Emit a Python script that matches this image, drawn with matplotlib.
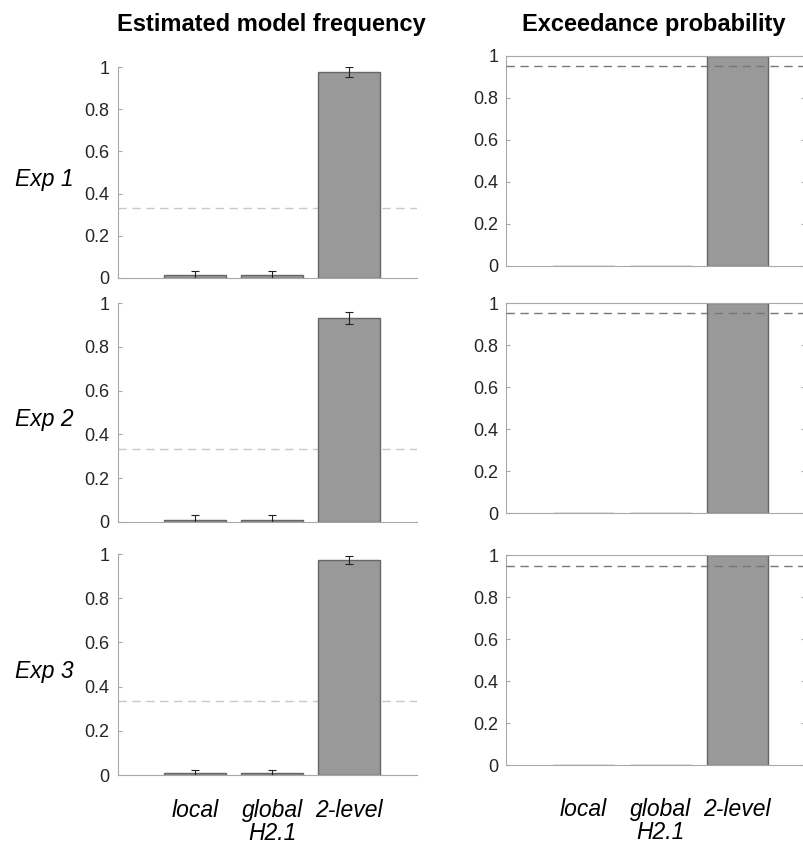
import matplotlib.pyplot as plt

plt.rcParams['font.family'] = ['Liberation Sans', 'DejaVu Sans']

models = ["local", "global\nH2.1", "2-level"]
experiments = ["Exp 1", "Exp 2", "Exp 3"]

# estimated model frequency (mean, error) per experiment
freq_exp1 = [0.013, 0.013, 0.975]
err_exp1 = [0.02, 0.02, 0.024]
freq_exp2 = [0.011, 0.011, 0.932]
err_exp2 = [0.02, 0.02, 0.026]
freq_exp3 = [0.009, 0.009, 0.973]
err_exp3 = [0.015, 0.015, 0.016]

# exceedance probability per experiment
xp_exp1 = [0.0, 0.0, 1.0]
xp_exp2 = [0.0, 0.0, 1.0]
xp_exp3 = [0.0, 0.0, 1.0]

chance_level = 1 / 3
xp_threshold = 0.95

freqs = [freq_exp1, freq_exp2, freq_exp3]
errs = [err_exp1, err_exp2, err_exp3]
xps = [xp_exp1, xp_exp2, xp_exp3]

W, H = 804, 846
# pixel rows (top, bottom) of each panel
left_rows = [(67, 278), (303, 522), (554, 775)]
right_rows = [(56, 266), (303, 513), (555, 765)]


def rect(l, r, top, bot):
    return [l / W, 1 - bot / H, (r - l) / W, (bot - top) / H]


AX_COL = '#a8a8a8'
TXT_COL = '#262626'
BAR_COL = '#999999'
EDGE_COL = '#666666'

fig = plt.figure(figsize=(W / 100, H / 100), dpi=100)
x = [1, 2, 3]


def style(ax, box, show_labels, label_pad):
    ax.set_xlim(0, 3.88)
    ax.set_ylim(0, 1)
    ax.set_yticks([0, 0.2, 0.4, 0.6, 0.8, 1])
    ax.set_yticklabels(['0', '0.2', '0.4', '0.6', '0.8', '1'])
    ax.set_xticks(x)
    if show_labels:
        ax.set_xticklabels(models, fontsize=16.5, style='italic', color='black',
                           linespacing=1.0, va='top')
    else:
        ax.set_xticklabels([])
    for s in ['left', 'bottom', 'top', 'right']:
        ax.spines[s].set_color(AX_COL)
        ax.spines[s].set_linewidth(0.8)
        ax.spines[s].set_visible(box or s in ('left', 'bottom'))
    ax.tick_params(axis='y', direction='in', length=3, color=AX_COL,
                   labelsize=13, labelcolor=TXT_COL, pad=6, right=box)
    ax.tick_params(axis='x', length=0, pad=label_pad)


for i in range(3):
    ax = fig.add_axes(rect(118, 417, *left_rows[i]))
    ax.bar(x, freqs[i], width=0.8, color=BAR_COL, edgecolor=EDGE_COL, linewidth=1, zorder=2)
    ax.errorbar(x, freqs[i], yerr=errs[i], fmt='none', ecolor='#222222',
                elinewidth=0.8, capsize=3, capthick=0.8, zorder=3)
    ax.axhline(chance_level, color='#c8c8c8', linestyle=(0, (6, 4)), linewidth=1, zorder=1)
    style(ax, box=False, show_labels=(i == 2), label_pad=17)
    top, bot = left_rows[i]
    fig.text(15 / W, 1 - ((top + bot) / 2 + 7) / H, experiments[i], fontsize=16.5,
             style='italic', ha='left', va='center', color='black')

    ax2 = fig.add_axes(rect(506.5, 805, *right_rows[i]))
    ax2.bar(x, xps[i], width=0.8, color=BAR_COL, edgecolor=EDGE_COL, linewidth=1, zorder=2)
    ax2.axhline(xp_threshold, color='#777777', linestyle=(0, (6, 4)), linewidth=1, zorder=3)
    style(ax2, box=True, show_labels=(i == 2), label_pad=24)

fig.text(271 / W, 1 - 24 / H, "Estimated model frequency", fontsize=17,
         fontweight='bold', ha='center', va='center')
fig.text(654 / W, 1 - 24 / H, "Exceedance probability", fontsize=17,
         fontweight='bold', ha='center', va='center')

fig.savefig('out.png', dpi=100)
